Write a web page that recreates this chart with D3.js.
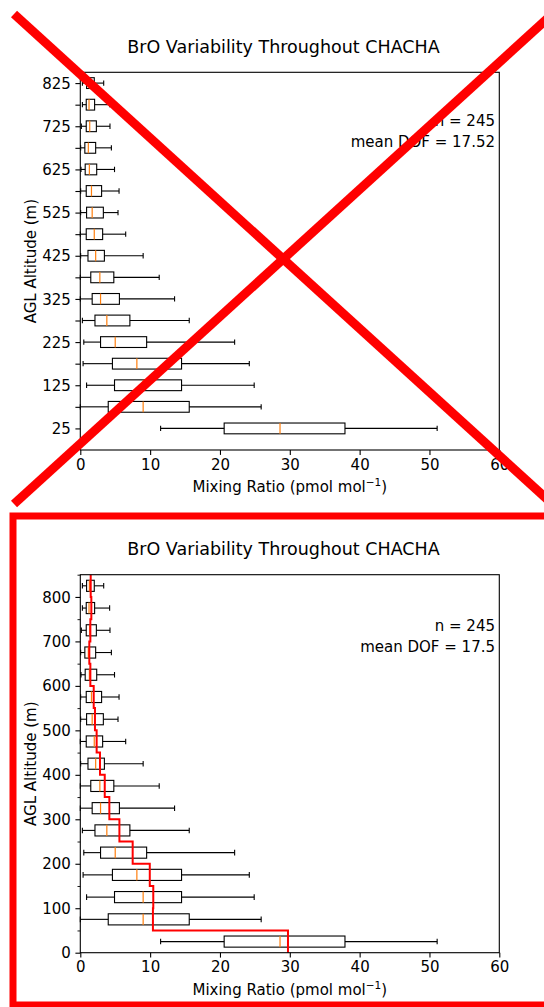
<!DOCTYPE html>
<html>
<head>
<meta charset="utf-8">
<script src="https://cdn.jsdelivr.net/npm/d3@7"></script>
<style>
  html, body { margin: 0; padding: 0; background: #fff; }
  svg { display: block; font-family: "DejaVu Sans", sans-serif; }
</style>
</head>
<body>
<svg id="fig" width="544" height="1007"></svg>
<script>
// Bin centres (m above ground level)
const altitudes = [25, 75, 125, 175, 225, 275, 325, 375, 425, 475, 525, 575, 625, 675, 725, 775, 825];
// Box statistics of BrO mixing ratio (pmol/mol) per altitude bin
const whiskerLow  = [11.5, 0.0, 0.9, 0.4, 0.5, 0.3, 0.0, 0.0, 0.05, 0.0, 0.05, 0.05, 0.1, 0.05, 0.15, 0.3, 0.3];
const quartile1   = [20.6, 4.0, 4.9, 4.6, 2.9, 2.1, 1.7, 1.5, 1.1, 0.85, 0.9, 0.85, 0.7, 0.65, 0.85, 0.85, 0.9];
const medians     = [28.6, 9.0, 9.0, 8.1, 5.0, 3.8, 2.9, 2.8, 2.2, 2.0, 1.7, 1.6, 1.3, 1.15, 1.35, 1.25, 1.3];
const quartile3   = [37.9, 15.6, 14.5, 14.5, 9.5, 7.1, 5.6, 4.8, 3.45, 3.2, 3.3, 3.05, 2.35, 2.2, 2.3, 2.05, 2.0];
const whiskerHigh = [51.1, 25.9, 24.9, 24.2, 22.1, 15.6, 13.5, 11.3, 9.0, 6.5, 5.4, 5.55, 4.9, 4.45, 4.25, 4.2, 3.35];
// Mean profile over 50 m layers (lower edge of each layer)
const layerBase  = [0, 50, 100, 150, 200, 250, 300, 350, 400, 450, 500, 550, 600, 650, 700, 750, 800];
const layerMean  = [29.74, 10.4, 10.45, 9.95, 7.5, 5.6, 4.16, 3.5, 2.82, 2.34, 2.1, 1.92, 1.44, 1.29, 1.44, 1.58, 1.49];
const layerDepth = 50;

const xTicks = [0, 10, 20, 30, 40, 50, 60];
const titleText = "BrO Variability Throughout CHACHA";
const nText = "n = 245";

const boxes = altitudes.map((a, i) => ({
  alt: a, lo: whiskerLow[i], q1: quartile1[i], med: medians[i], q3: quartile3[i], hi: whiskerHigh[i]
}));

const svg = d3.select("#fig");
const TICK_FONT = 15;

function drawPanel(cfg) {
  const g = svg.append("g");
  const x = d3.scaleLinear().domain([0, 60]).range([80.3, 499.3]);
  const y = d3.scaleLinear().domain(cfg.yDomain).range([cfg.bottom, cfg.top]);
  const boxH = Math.abs(y(25) - y(0));
  const capH = boxH / 2;

  // Title
  g.append("text")
    .attr("x", 283.5).attr("y", cfg.titleY)
    .attr("text-anchor", "middle")
    .attr("font-size", 17.5)
    .attr("fill", "#000")
    .text(titleText);

  // Boxes
  const bg = g.append("g");
  boxes.forEach(b => {
    const yc = y(b.alt);
    const s = bg.append("g").attr("stroke", "#000").attr("stroke-width", 1.1).attr("fill", "none");
    s.append("line").attr("x1", x(b.lo)).attr("x2", x(b.q1)).attr("y1", yc).attr("y2", yc);
    s.append("line").attr("x1", x(b.q3)).attr("x2", x(b.hi)).attr("y1", yc).attr("y2", yc);
    s.append("line").attr("x1", x(b.lo)).attr("x2", x(b.lo)).attr("y1", yc - capH / 2).attr("y2", yc + capH / 2);
    s.append("line").attr("x1", x(b.hi)).attr("x2", x(b.hi)).attr("y1", yc - capH / 2).attr("y2", yc + capH / 2);
    s.append("rect").attr("x", x(b.q1)).attr("y", yc - boxH / 2)
      .attr("width", x(b.q3) - x(b.q1)).attr("height", boxH);
    bg.append("line").attr("x1", x(b.med)).attr("x2", x(b.med))
      .attr("y1", yc - boxH / 2).attr("y2", yc + boxH / 2)
      .attr("stroke", "#ff7f0e").attr("stroke-width", 1.2);
  });

  // Mean profile as a step line
  if (cfg.showMean) {
    const pts = [];
    for (let i = layerBase.length - 1; i >= 0; i--) {
      pts.push([layerMean[i], layerBase[i] + layerDepth]);
      pts.push([layerMean[i], layerBase[i]]);
    }
    g.append("path")
      .datum(pts)
      .attr("d", d3.line().x(d => x(d[0])).y(d => y(d[1])))
      .attr("fill", "none").attr("stroke", "#ff0000").attr("stroke-width", 2);
  }

  // Frame
  g.append("rect")
    .attr("x", x(0)).attr("y", cfg.top)
    .attr("width", x(60) - x(0)).attr("height", cfg.bottom - cfg.top)
    .attr("fill", "none").attr("stroke", "#000").attr("stroke-width", 1.1);

  // X axis
  const xa = g.append("g").attr("transform", `translate(0,${cfg.bottom})`)
    .call(d3.axisBottom(x).tickValues(xTicks).tickSize(4.9).tickPadding(4));
  xa.select(".domain").remove();
  xa.selectAll("line").attr("stroke-width", 1.1);
  xa.selectAll("text").attr("font-size", TICK_FONT).attr("font-family", "DejaVu Sans").attr("fill", "#000");

  // Y axis
  const ya = g.append("g").attr("transform", `translate(${x(0)},0)`)
    .call(d3.axisLeft(y).tickValues(cfg.yTicks).tickFormat(cfg.yFormat).tickSize(4.9).tickPadding(4.5));
  ya.select(".domain").remove();
  ya.selectAll("line").attr("stroke-width", 1.1);
  ya.selectAll("text").attr("font-size", TICK_FONT).attr("font-family", "DejaVu Sans").attr("fill", "#000").attr("dy", "0.34em");
  if (cfg.yMinor) {
    const ym = g.append("g").attr("transform", `translate(${x(0)},0)`)
      .call(d3.axisLeft(y).tickValues(cfg.yMinor).tickFormat("").tickSize(2.8));
    ym.select(".domain").remove();
    ym.selectAll("line").attr("stroke-width", 0.9);
  }

  // Axis titles
  const xl = g.append("text")
    .attr("x", (x(0) + x(60)) / 2).attr("y", cfg.bottom + 42)
    .attr("text-anchor", "middle").attr("font-size", TICK_FONT).attr("fill", "#000");
  xl.append("tspan").text("Mixing Ratio (pmol mol");
  xl.append("tspan").attr("font-size", TICK_FONT * 0.7).attr("dy", -6).text("\u22121");
  xl.append("tspan").attr("dy", 6).text(")");

  g.append("text")
    .attr("transform", `translate(36,${(cfg.top + cfg.bottom) / 2}) rotate(-90)`)
    .attr("text-anchor", "middle").attr("font-size", TICK_FONT).attr("fill", "#000")
    .text("AGL Altitude (m)");

  // Summary text
  g.append("text").attr("x", 495).attr("y", cfg.nY)
    .attr("text-anchor", "end").attr("font-size", TICK_FONT).attr("fill", "#000").text(nText);
  g.append("text").attr("x", 495).attr("y", cfg.nY + 21.5)
    .attr("text-anchor", "end").attr("font-size", TICK_FONT).attr("fill", "#000").text(cfg.dofText);
}

// Upper panel: categorical-style altitude labels
drawPanel({
  top: 72.3, bottom: 450, yDomain: [-25, 850],
  yTicks: altitudes,
  yFormat: (d, i) => (i % 2 === 0 ? d : ""),
  yMinor: null,
  titleY: 52.5, nY: 125.7, dofText: "mean DOF = 17.52",
  showMean: false
});

// Lower panel: linear altitude axis with the mean profile
drawPanel({
  top: 574.7, bottom: 952.7, yDomain: [0, 850],
  yTicks: d3.range(0, 801, 100),
  yFormat: d => d,
  yMinor: d3.range(50, 851, 100),
  titleY: 555, nY: 630.7, dofText: "mean DOF = 17.5",
  showMean: true
});

// Red cross over the upper panel and red frame round the lower panel
const mark = svg.append("g").attr("stroke", "#ff0000").attr("fill", "none");
mark.append("line").attr("x1", 14).attr("y1", 14).attr("x2", 548).attr("y2", 500).attr("stroke-width", 9);
mark.append("line").attr("x1", 548).attr("y1", 18).attr("x2", 14).attr("y2", 504).attr("stroke-width", 9);
mark.append("rect").attr("x", 13).attr("y", 516).attr("width", 560).attr("height", 489).attr("stroke-width", 7);
</script>
</body>
</html>
